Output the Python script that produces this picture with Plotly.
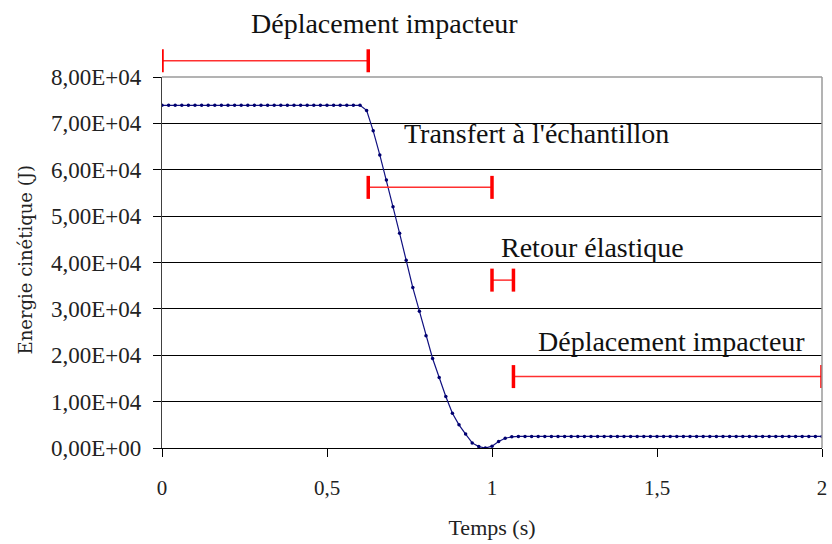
import plotly.graph_objects as go

# ---- Data ----
temps = [0.00, 0.02, 0.04, 0.06, 0.08, 0.10, 0.12, 0.14, 0.16, 0.18,
         0.20, 0.22, 0.24, 0.26, 0.28, 0.30, 0.32, 0.34, 0.36, 0.38,
         0.40, 0.42, 0.44, 0.46, 0.48, 0.50, 0.52, 0.54, 0.56, 0.58,
         0.60, 0.62, 0.64, 0.66, 0.68, 0.70, 0.72, 0.74, 0.76, 0.78,
         0.80, 0.82, 0.84, 0.86, 0.88, 0.90, 0.92, 0.94, 0.96, 0.98,
         1.00, 1.02, 1.04, 1.06, 1.08, 1.10, 1.12, 1.14, 1.16, 1.18,
         1.20, 1.22, 1.24, 1.26, 1.28, 1.30, 1.32, 1.34, 1.36, 1.38,
         1.40, 1.42, 1.44, 1.46, 1.48, 1.50, 1.52, 1.54, 1.56, 1.58,
         1.60, 1.62, 1.64, 1.66, 1.68, 1.70, 1.72, 1.74, 1.76, 1.78,
         1.80, 1.82, 1.84, 1.86, 1.88, 1.90, 1.92, 1.94, 1.96, 1.98,
         2.00]

energie = [73900, 73900, 73900, 73900, 73900, 73900, 73900, 73900, 73900, 73900,
           73900, 73900, 73900, 73900, 73900, 73900, 73900, 73900, 73900, 73900,
           73900, 73900, 73900, 73900, 73900, 73900, 73900, 73900, 73900, 73900,
           73900, 72800, 68400, 63200, 57800, 52000, 46300, 40500, 34600, 29500,
           24200, 19300, 15200, 11100, 7500, 5000, 3000, 1100, 300, 0,
           400, 1400, 2100, 2400, 2500, 2500, 2500, 2500, 2500, 2500,
           2500, 2500, 2500, 2500, 2500, 2500, 2500, 2500, 2500, 2500,
           2500, 2500, 2500, 2500, 2500, 2500, 2500, 2500, 2500, 2500,
           2500, 2500, 2500, 2500, 2500, 2500, 2500, 2500, 2500, 2500,
           2500, 2500, 2500, 2500, 2500, 2500, 2500, 2500, 2500, 2500,
           2500]

y_tickvals = [0, 10000, 20000, 30000, 40000, 50000, 60000, 70000, 80000]
y_ticktext = ["0,00E+00", "1,00E+04", "2,00E+04", "3,00E+04", "4,00E+04",
              "5,00E+04", "6,00E+04", "7,00E+04", "8,00E+04"]
x_tickvals = [0, 0.5, 1, 1.5, 2]
x_ticktext = ["0", "0,5", "1", "1,5", "2"]

# phase intervals
phase_labels = ["Déplacement impacteur", "Transfert à l'échantillon",
                "Retour élastique", "Déplacement impacteur"]
phase_start = [0.0, 0.625, 1.0, 1.065]
phase_end = [0.625, 1.0, 1.065, 2.0]
phase_level = [83500, 56200, 36200, 15400]
label_x = [0.674, 1.136, 1.306, 1.544]
label_y = [91600, 67900, 43300, 23000]

Y_MAX = 80000
SERIF = "Liberation Serif"

fig = go.Figure()

fig.add_trace(go.Scatter(
    x=temps, y=energie, mode="lines+markers",
    line=dict(color="#101080", width=1.2),
    marker=dict(symbol="circle", size=3.5, color="#000070"),
    showlegend=False, hoverinfo="skip",
))

# interval bars drawn as shapes (x in data coords, y in paper coords so the
# top one may sit above the plotting area)
shapes = []
for x0, x1, lv in zip(phase_start, phase_end, phase_level):
    yp = lv / Y_MAX
    shapes.append(dict(type="line", xref="x", yref="paper", x0=x0, x1=x1,
                       y0=yp, y1=yp, line=dict(color="#ff3030", width=1.5),
                       layer="above"))
    for xc in (x0, x1):
        shapes.append(dict(type="line", xref="x", yref="paper", x0=xc, x1=xc,
                           ysizemode="pixel", yanchor=yp, y0=-11.5, y1=11.5,
                           line=dict(color="#ff0000", width=3.5),
                           layer="above"))

shapes += [
    dict(type="line", xref="paper", yref="paper", x0=0, x1=1, y0=1, y1=1,
         line=dict(color="#9a9a9a", width=1.5), layer="above"),
    dict(type="line", xref="paper", yref="paper", x0=1, x1=1, y0=0, y1=1,
         line=dict(color="#9a9a9a", width=1.5), layer="above"),
]

annotations = []
for txt, lx, ly in zip(phase_labels, label_x, label_y):
    annotations.append(dict(
        x=lx, y=ly / Y_MAX, xref="x", yref="paper", text=txt, showarrow=False,
        font=dict(family=SERIF, size=28, color="#111111"),
        xanchor="center", yanchor="middle",
    ))

annotations.append(dict(
    x=0, y=0.5, xref="paper", yref="paper", xshift=-137, yshift=2,
    text="Energie cinétique (J)", showarrow=False, textangle=-90,
    font=dict(family="DejaVu Serif", size=18, color="#222222"),
    xanchor="center", yanchor="middle",
))

fig.update_layout(
    width=832, height=544,
    margin=dict(l=162, r=10, t=77, b=96, autoexpand=False),
    paper_bgcolor="white", plot_bgcolor="white",
    font=dict(family=SERIF, size=20, color="#222222"),
    annotations=annotations,
    shapes=shapes,
)

fig.update_xaxes(
    range=[0, 2], tickvals=x_tickvals, ticktext=x_ticktext,
    showgrid=False, zeroline=False,
    showline=True, linecolor="#000000", linewidth=1.2,
    ticks="outside", ticklen=8, tickcolor="#000000", tickwidth=1,
    ticklabelstandoff=13,
    tickfont=dict(family=SERIF, size=21, color="#222222"),
    title=dict(text="Temps (s)", font=dict(family=SERIF, size=22, color="#222222"),
               standoff=20),
)

fig.update_yaxes(
    range=[0, Y_MAX], tickvals=y_tickvals, ticktext=y_ticktext,
    showgrid=True, gridcolor="#000000", gridwidth=1, zeroline=False,
    showline=True, linecolor="#404040", linewidth=1.2,
    ticks="outside", ticklen=8, tickcolor="#000000", tickwidth=1,
    ticklabelstandoff=7,
    tickfont=dict(family=SERIF, size=23, color="#222222"),
)

# remove the default 8px page margin so the figure fills the window exactly
fig.write_html(
    "out.html",
    config={"displayModeBar": False},
    post_script="document.body.style.margin='0';document.body.style.overflow='hidden';",
)
